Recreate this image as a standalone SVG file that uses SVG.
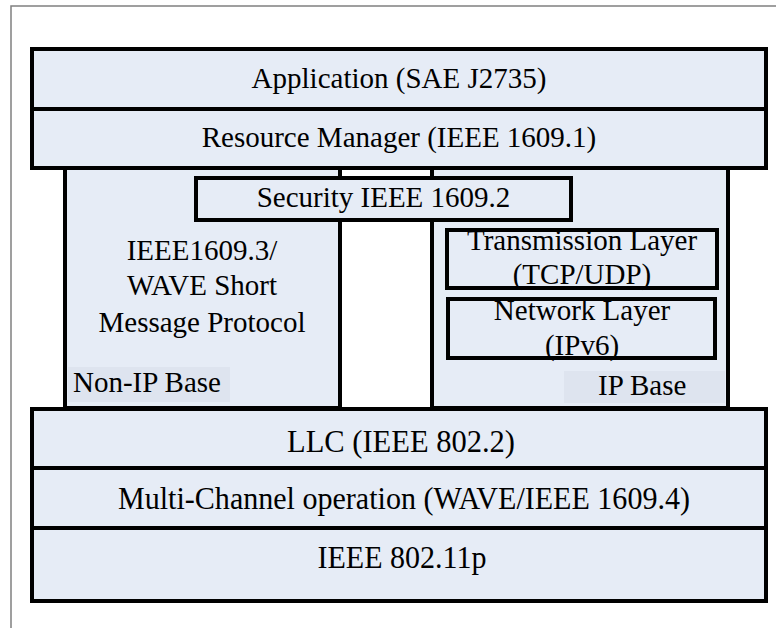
<svg xmlns="http://www.w3.org/2000/svg" width="776" height="628" viewBox="0 0 776 628">
<style>
.box{fill:#E6ECF6;stroke:#000;stroke-width:4;stroke-linejoin:miter}
.lbl{fill:#DEE4EF}
.t{font-family:'Liberation Serif','Times New Roman',serif;font-size:29px;fill:#000;text-anchor:middle}
.ts{font-family:'Liberation Serif','Times New Roman',serif;font-size:29px;fill:#000}
.tb{font-family:'Liberation Serif','Times New Roman',serif;font-size:32px;fill:#000;text-anchor:middle}
.frame{fill:none;stroke:#808080;stroke-width:1.5}
</style>
<rect width="776" height="628" fill="#fff"/>
<path class="frame" d="M11,628 V6 H776"/>

<g id="nonip">
<rect class="box" x="65" y="160" width="275" height="248"/>
<rect class="lbl" x="68" y="367" width="162" height="35"/>
<text class="t" x="202" y="260">IEEE1609.3/</text>
<text class="t" x="202" y="295">WAVE Short</text>
<text class="t" x="202" y="332">Message Protocol</text>
<text class="ts" x="73" y="392">Non-IP Base</text>
</g>

<g id="ipbase">
<rect class="box" x="432" y="160" width="296" height="248"/>
<rect class="lbl" x="564" y="371" width="161" height="32"/>
<text class="ts" x="598" y="395">IP Base</text>
</g>

<g id="transmission">
<rect class="box" x="447" y="230" width="270" height="58"/>
<text class="t" x="582" y="250">Transmission Layer</text>
<text class="t" x="582" y="284">(TCP/UDP)</text>
</g>

<g id="network">
<rect class="box" x="448" y="299" width="267" height="59"/>
<text class="t" x="582" y="320">Network Layer</text>
<text class="t" x="582" y="355">(IPv6)</text>
</g>

<g id="application">
<rect class="box" x="32" y="49" width="734" height="60"/>
<text class="t" x="399" y="88">Application (SAE J2735)</text>
</g>

<g id="resource">
<rect class="box" x="32" y="109" width="734" height="59"/>
<text class="t" x="399" y="147">Resource Manager (IEEE 1609.1)</text>
</g>

<g id="security">
<rect class="box" x="196" y="178" width="375" height="42"/>
<text class="t" x="383.5" y="207">Security IEEE 1609.2</text>
</g>

<g id="llc">
<rect class="box" x="32" y="409" width="734" height="59"/>
<text class="tb" x="401" y="452" textLength="228" lengthAdjust="spacingAndGlyphs">LLC (IEEE 802.2)</text>
</g>

<g id="multichannel">
<rect class="box" x="32" y="468" width="734" height="60"/>
<text class="tb" x="404" y="509" textLength="572" lengthAdjust="spacingAndGlyphs">Multi-Channel operation (WAVE/IEEE 1609.4)</text>
</g>

<g id="phy">
<rect class="box" x="32" y="528" width="734" height="73"/>
<text class="tb" x="402" y="568" textLength="169" lengthAdjust="spacingAndGlyphs">IEEE 802.11p</text>
</g>

<g id="connectors"></g>
</svg>
